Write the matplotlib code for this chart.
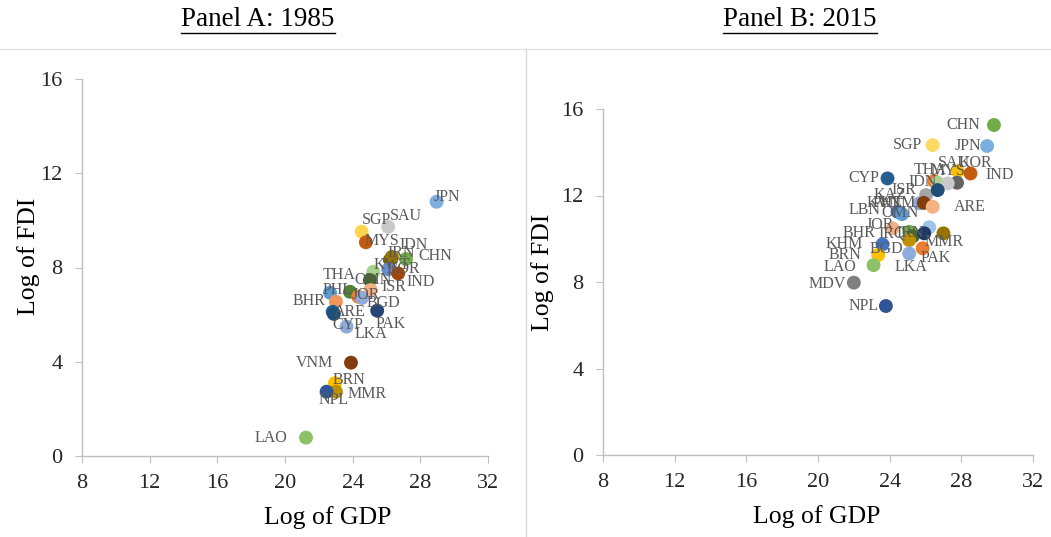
import matplotlib
matplotlib.use("Agg")
import matplotlib.pyplot as plt
from matplotlib.lines import Line2D

plt.rcParams['font.family'] = ['Liberation Serif', 'DejaVu Serif']

# ---- Panel A: 1985 ----
a_names = ["JPN", "SAU", "SGP", "MYS", "IRN", "IDN", "CHN", "KWT", "KOR", "IND",
           "OMN", "ISR", "THA", "PHL", "JOR", "BGD", "BHR", "ARE", "CYP", "PAK",
           "LKA", "VNM", "BRN", "MMR", "NPL", "LAO"]
a_gdp = [28.96, 26.10, 24.53, 24.78, 26.20, 26.32, 27.15, 25.22, 26.10, 26.69,
         25.02, 25.06, 23.84, 22.66, 24.33, 24.55, 23.01, 22.82, 22.89, 25.45,
         23.64, 23.90, 22.95, 23.01, 22.46, 21.24]
a_fdi = [10.79, 9.73, 9.52, 9.07, 8.32, 8.45, 8.36, 7.82, 7.92, 7.75,
         7.47, 7.05, 6.97, 6.93, 6.76, 6.71, 6.55, 6.12, 6.03, 6.17,
         5.49, 3.96, 3.09, 2.73, 2.73, 0.78]
a_colors = ["#7CAFDD", "#C9C9C9", "#FFD54F", "#C55A11", "#7F6000", "#997300", "#70AD47",
            "#A9D18E", "#698ED0", "#9E480E", "#43682B", "#F4B183", "#548235", "#5B9BD5",
            "#ED7D31", "#8FAADC", "#F1975A", "#255E91", "#1F4E79", "#264478", "#8FAADC",
            "#843C0C", "#FFC000", "#BF9000", "#2F5597", "#8CC168"]
# label offsets in pixels (dx, dy down)
a_offsets = {"JPN": (-3, -5), "SAU": (2, -11), "SGP": (0, -12), "MYS": (-1, -1),
             "IRN": (-2, -7), "IDN": (8, -12), "CHN": (12, -3), "KWT": (0, -7),
             "KOR": (-2, 0), "IND": (8, 9), "OMN": (-16, 0), "ISR": (11, -3),
             "THA": (-27, -17), "PHL": (-7, -3), "JOR": (-7, -2), "BGD": (5, 5),
             "BHR": (-43, -1), "ARE": (1, 0), "CYP": (-2, 11), "PAK": (-2, 13),
             "LKA": (8, 7), "VNM": (-55, 0), "BRN": (-2, -3), "MMR": (12, 2),
             "NPL": (-8, 8), "LAO": (-51, 0)}

# ---- Panel B: 2015 ----
b_names = ["CHN", "SGP", "JPN", "SAU", "KOR", "IND", "CYP", "THA", "IDN", "MYS",
           "ISR", "KAZ", "KWT", "PHL", "ARE", "LBN", "OMN", "VNM", "JOR", "BHR",
           "IRQ", "IRN", "MMR", "BGD", "KHM", "PAK", "BRN", "LKA", "LAO", "MDV", "NPL"]
b_gdp = [29.82, 26.40, 29.44, 27.80, 27.76, 28.51, 23.88, 26.48, 26.68, 27.24,
         26.03, 26.68, 25.65, 25.90, 26.40, 24.44, 24.69, 26.21, 24.16, 25.09,
         25.30, 25.93, 27.00, 25.09, 23.60, 25.84, 23.36, 25.09, 23.10, 22.00, 23.79]
b_fdi = [15.26, 14.33, 14.29, 13.13, 12.59, 13.02, 12.79, 12.67, 12.59, 12.56,
         12.02, 12.25, 11.64, 11.66, 11.48, 11.25, 11.14, 10.53, 10.48, 10.32,
         10.12, 10.25, 10.25, 9.94, 9.74, 9.56, 9.25, 9.32, 8.78, 7.97, 6.89]
b_colors = ["#70AD47", "#FFD966", "#7CAFDD", "#FFC000", "#636363", "#C55A11", "#255E91",
            "#ED7D31", "#A9D18E", "#C9C9C9", "#A5A5A5", "#1F4E79", "#8FAADC", "#843C0C",
            "#F4B183", "#4472C4", "#5B9BD5", "#9DC3E6", "#F4B183", "#70AD47", "#43682B",
            "#203864", "#997300", "#BF9000", "#4472C4", "#ED7D31", "#FFC000", "#8FAADC",
            "#8CC168", "#7F7F7F", "#2F5597"]
b_offsets = {"CHN": (-48, 0), "SGP": (-40, 0), "JPN": (-33, 0), "SAU": (-20, -8),
             "KOR": (2, -20), "IND": (15, 2), "CYP": (-39, 0), "THA": (-20, -11),
             "IDN": (-29, -1), "MYS": (-17, -12), "ISR": (-35, -5), "KAZ": (-64, 5),
             "KWT": (-53, 0), "PHL": (-51, 0), "ARE": (21, 0), "LBN": (-49, -2),
             "OMN": (-21, -1), "VNM": (-50, -24), "JOR": (-27, -3), "BHR": (-67, 1),
             "IRQ": (-34, -3), "IRN": (-28, 0), "MMR": (-19, 9), "BGD": (-40, 9),
             "KHM": (-57, 0), "PAK": (-2, 10), "BRN": (-50, 0), "LKA": (-15, 14),
             "LAO": (-50, 2), "MDV": (-45, 1), "NPL": (-37, 0)}

ticks_x = [8, 12, 16, 20, 24, 28, 32]
ticks_y = [0, 4, 8, 12, 16]

fig = plt.figure(figsize=(10.51, 5.37), dpi=100)
W, H = 1051, 537


def panel(rect, names, gdp, fdi, colors, offsets, xlab_pos, ylab_pos):
    l, t, r, b = rect
    ax = fig.add_axes([l / W, 1 - b / H, (r - l) / W, (b - t) / H])
    ax.scatter(gdp, fdi, s=100, c=colors, edgecolors='none', zorder=3, clip_on=False)
    for n, x, y in zip(names, gdp, fdi):
        dx, dy = offsets[n]
        ax.annotate(n, (x, y), xytext=(dx * 0.72, -dy * 0.72), textcoords='offset points',
                    ha='left', va='center', fontsize=11.5, color='#595959', zorder=4)
    ax.set_xlim(8, 32)
    ax.set_ylim(0, 16)
    ax.set_xticks(ticks_x)
    ax.set_yticks(ticks_y)
    for s in ['top', 'right']:
        ax.spines[s].set_visible(False)
    for s in ['left', 'bottom']:
        ax.spines[s].set_color('#BFBFBF')
        ax.spines[s].set_linewidth(1.0)
    ax.tick_params(direction='out', length=5, color='#BFBFBF', labelsize=16,
                   labelcolor='#262626')
    ax.tick_params(axis='x', pad=8)
    ax.tick_params(axis='y', pad=9)
    ax.set_xlabel('Log of GDP', fontsize=18.5)
    ax.set_ylabel('Log of FDI', fontsize=18.5)
    # label anchors given in figure pixels (x label: top centre, y label: right edge centre)
    ax.xaxis.set_label_coords(xlab_pos[0] / W, 1 - xlab_pos[1] / H, transform=fig.transFigure)
    ax.yaxis.set_label_coords(ylab_pos[0] / W, 1 - ylab_pos[1] / H, transform=fig.transFigure)
    return ax


panel((82, 79, 488, 456), a_names, a_gdp, a_fdi, a_colors, a_offsets, (328, 506), (40, 256))
panel((603, 109, 1033, 455), b_names, b_gdp, b_fdi, b_colors, b_offsets, (817, 505), (554, 272))

# titles, underlined
fig.canvas.draw()
renderer = fig.canvas.get_renderer()
for cx, txt in [(258, "Panel A: 1985"), (800, "Panel B: 2015")]:
    t = fig.text(cx / W, 1 - 19 / H, txt, ha='center', va='center', fontsize=19.5)
    bb = t.get_window_extent(renderer)
    yline = bb.y0 - 1
    fig.add_artist(Line2D([bb.x0 / W, bb.x1 / W], [yline / H, yline / H],
                          color='black', linewidth=1.0))

# table borders
fig.add_artist(Line2D([0, 1], [1 - 49 / H, 1 - 49 / H], color='#E3E3E3', linewidth=1.0))
fig.add_artist(Line2D([526 / W, 526 / W], [0, 1 - 49 / H], color='#D9D9D9', linewidth=1.0))

fig.savefig('out.png', dpi=100)
